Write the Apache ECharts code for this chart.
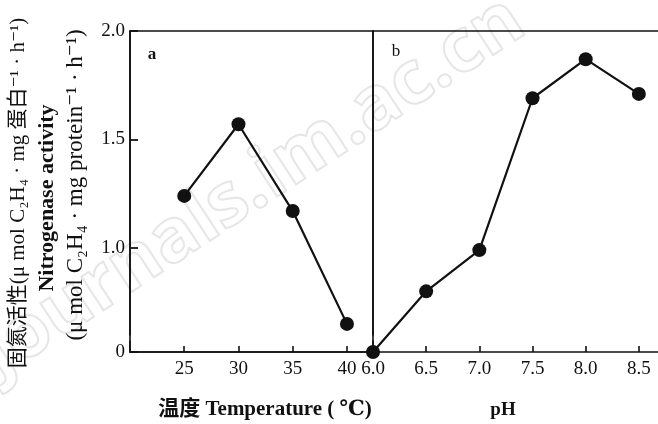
<!DOCTYPE html>
<html>
<head>
<meta charset="utf-8">
<script src="https://cdn.jsdelivr.net/npm/echarts@6/dist/echarts.min.js"></script>
<style>
  html, body { margin: 0; padding: 0; background: #fff; }
  #chart { width: 658px; height: 424px; }
</style>
</head>
<body>
<div id="chart"></div>
<script>
// panel a: temperature
const tempValues = [25, 30, 35, 40]
const tempActivity = [1.24, 1.57, 1.17, 0.65]
// panel b: pH
const phValues = [6.0, 6.5, 7.0, 7.5, 8.0, 8.5]
const phActivity = [0, 0.80, 0.99, 1.69, 1.87, 1.71]
// y ticks shown on the left axis
const yTickLabels = [0, 1.0, 1.5, 2.0]

const serif = '"Liberation Serif", "DejaVu Serif", "Noto Sans CJK SC", serif'
const ink = '#111'

const chart = echarts.init(document.getElementById('chart'))

// the original y axis is broken just above 0
const yBreaks = [{ start: 0.05, end: 0.6, gap: '2%' }]

const axisLineStyle = { color: ink, width: 1.6 }

const option = {
  animation: false,
  grid: [
    { left: 130, right: 285, top: 31, bottom: 72, show: true, borderColor: ink, borderWidth: 1.6 },
    { left: 373, right: 0, top: 31, bottom: 72 }
  ],
  xAxis: [
    {
      type: 'value', gridIndex: 0, min: 20, max: 42.4, interval: 5,
      axisLine: { lineStyle: axisLineStyle },
      axisTick: { inside: true, length: 6, lineStyle: { color: ink, width: 1.6 } },
      splitLine: { show: false },
      axisLabel: { showMinLabel: false, showMaxLabel: false, color: ink, fontFamily: serif, fontSize: 19, margin: 8 }
    },
    {
      type: 'value', gridIndex: 1, min: 6.0, max: 8.68, interval: 0.5,
      axisLine: { lineStyle: axisLineStyle },
      axisTick: { inside: true, length: 6, lineStyle: { color: ink, width: 1.6 } },
      splitLine: { show: false },
      axisLabel: {
        showMaxLabel: false, color: ink, fontFamily: serif, fontSize: 19, margin: 8,
        formatter: (v) => v.toFixed(1)
      }
    },
    {
      type: 'value', gridIndex: 1, position: 'top', min: 6.0, max: 8.68,
      axisLine: { lineStyle: axisLineStyle },
      axisTick: { show: false }, axisLabel: { show: false }, splitLine: { show: false }
    }
  ],
  yAxis: [
    {
      type: 'value', gridIndex: 0, min: 0, max: 2.0, interval: 0.5,
      breaks: yBreaks, breakArea: { show: false },
      axisLine: { lineStyle: axisLineStyle },
      axisTick: { inside: true, length: 8, customValues: yTickLabels, lineStyle: { color: ink, width: 1.8 } },
      splitLine: { show: false },
      axisLabel: {
        color: ink, fontFamily: serif, fontSize: 19, margin: 5,
        customValues: yTickLabels,
        formatter: (v) => (v === 0 ? '0' : v.toFixed(1))
      }
    },
    {
      type: 'value', gridIndex: 1, min: 0, max: 2.0, interval: 0.5,
      breaks: yBreaks, breakArea: { show: false },
      axisLine: { lineStyle: axisLineStyle },
      axisTick: { show: false }, axisLabel: { show: false }, splitLine: { show: false }
    }
  ],
  series: [
    {
      type: 'line', xAxisIndex: 0, yAxisIndex: 0,
      data: tempValues.map((t, i) => [t, tempActivity[i]]),
      symbol: 'circle', symbolSize: 14,
      itemStyle: { color: ink },
      lineStyle: { color: ink, width: 2.2 }
    },
    {
      type: 'line', xAxisIndex: 1, yAxisIndex: 1,
      data: phValues.map((p, i) => [p, phActivity[i]]),
      symbol: 'circle', symbolSize: 14,
      itemStyle: { color: ink },
      lineStyle: { color: ink, width: 2.2 }
    }
  ],
  graphic: [
    {
      type: 'text', x: 8, y: 392, rotation: 0.58, z: -10, silent: true,
      style: {
        text: 'Journals.im.ac.cn', font: 'bold 74px "Open Sans", sans-serif',
        fill: 'rgba(255,255,255,0)', stroke: '#e6e6e6', lineWidth: 2,
        align: 'left', verticalAlign: 'bottom'
      }
    },
    { type: 'text', x: 152, y: 55, style: { text: 'a', font: 'bold 17px ' + serif, fill: ink, align: 'center', verticalAlign: 'middle' } },
    { type: 'text', x: 396, y: 52, style: { text: 'b', font: '17px ' + serif, fill: ink, align: 'center', verticalAlign: 'middle' } },
    {
      type: 'text', x: 265, y: 410,
      style: { text: '温度 Temperature ( ℃)', font: 'bold 21px ' + serif, fill: ink, align: 'center', verticalAlign: 'middle' }
    },
    {
      type: 'text', x: 503, y: 410,
      style: { text: 'pH', font: 'bold 19px ' + serif, fill: ink, align: 'center', verticalAlign: 'middle' }
    },
    {
      type: 'text', x: 18, y: 193, rotation: Math.PI / 2,
      style: { text: '固氮活性(μ mol C₂H₄ · mg 蛋白⁻¹ · h⁻¹)', font: '21px ' + serif, fill: ink, align: 'center', verticalAlign: 'middle' }
    },
    {
      type: 'text', x: 47, y: 198, rotation: Math.PI / 2,
      style: { text: 'Nitrogenase activity', font: 'bold 22px ' + serif, fill: ink, align: 'center', verticalAlign: 'middle' }
    },
    {
      type: 'text', x: 76, y: 185, rotation: Math.PI / 2,
      style: { text: '(μ mol C₂H₄ · mg protein⁻¹ · h⁻¹)', font: '23px ' + serif, fill: ink, align: 'center', verticalAlign: 'middle' }
    }
  ]
}

chart.setOption(option)
</script>
</body>
</html>
